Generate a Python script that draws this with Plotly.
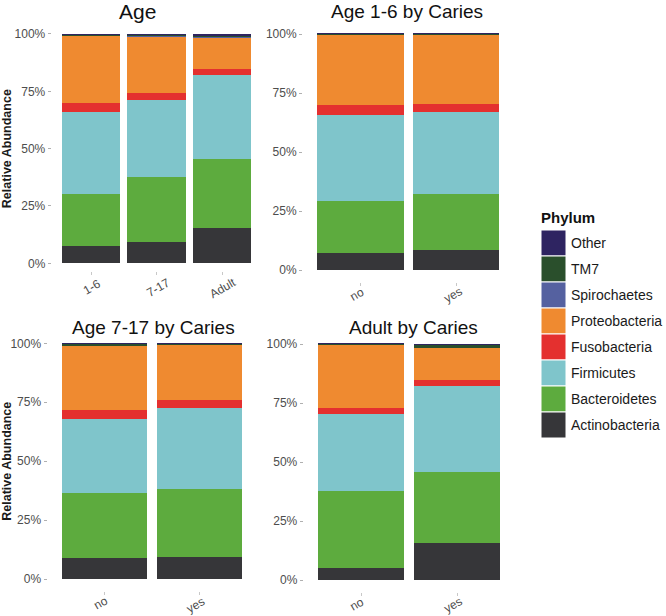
import plotly.graph_objects as go

W, H = 666, 616

phyla = ["Actinobacteria", "Bacteroidetes", "Firmicutes", "Fusobacteria",
         "Proteobacteria", "Spirochaetes", "TM7", "Other"]
colors = ["#363639", "#5dab3e", "#7fc5cb", "#e4302f",
          "#ef8a30", "#5561a0", "#2a4f2c", "#2e2461"]

titles = ["Age", "Age 1-6 by Caries", "Age 7-17 by Caries", "Adult by Caries"]
cats_age = ["1-6", "7-17", "Adult"]
cats_caries = ["no", "yes"]

# relative abundance (%) per phylum, one list per panel (order of categories)
age_vals = {
    "Actinobacteria": [7.6, 9.2, 15.4],
    "Bacteroidetes": [22.5, 28.6, 29.9],
    "Firmicutes": [35.9, 33.4, 36.7],
    "Fusobacteria": [3.8, 3.2, 2.6],
    "Proteobacteria": [29.9, 24.9, 13.9],
    "Spirochaetes": [0.02, 0.03, 0.05],
    "TM7": [0.25, 0.6, 1.2],
    "Other": [0.03, 0.03, 0.05],
}
age16_vals = {
    "Actinobacteria": [7.1, 8.5],
    "Bacteroidetes": [22.1, 23.6],
    "Firmicutes": [36.6, 35.0],
    "Fusobacteria": [4.0, 3.2],
    "Proteobacteria": [30.0, 29.5],
    "Spirochaetes": [0.02, 0.02],
    "TM7": [0.15, 0.15],
    "Other": [0.03, 0.03],
}
age717_vals = {
    "Actinobacteria": [8.8, 9.5],
    "Bacteroidetes": [27.9, 28.9],
    "Firmicutes": [31.2, 34.3],
    "Fusobacteria": [3.7, 3.3],
    "Proteobacteria": [27.8, 23.6],
    "Spirochaetes": [0.03, 0.03],
    "TM7": [0.5, 0.3],
    "Other": [0.03, 0.03],
}
adult_vals = {
    "Actinobacteria": [5.2, 15.5],
    "Bacteroidetes": [32.7, 30.1],
    "Firmicutes": [32.6, 36.6],
    "Fusobacteria": [2.5, 2.5],
    "Proteobacteria": [26.6, 13.7],
    "Spirochaetes": [0.03, 0.05],
    "TM7": [0.3, 1.4],
    "Other": [0.03, 0.05],
}

y_ticks = [0, 25, 50, 75, 100]
y_ticktext = ["0%", "25%", "50%", "75%", "100%"]

panels = [
    (cats_age, age_vals),
    (cats_caries, age16_vals),
    (cats_caries, age717_vals),
    (cats_caries, adult_vals),
]

# panel pixel boxes (left, right, top, bottom) -> domains
boxes = [
    (51.7, 261.3, 22.5, 274.8),
    (303.0, 513.6, 22.2, 281.8),
    (47.5, 256.5, 331.5, 591.0),
    (303.7, 514.5, 332.2, 591.8),
]
title_pos = [(137, 12, 21), (407, 12, 19), (153, 327, 19), (413, 327, 19)]
label_shift = [1, -3, -4, -4]
tick_dir = ["inside", "outside", "outside", "outside"]

fig = go.Figure()
FONT = "Liberation Sans, Arial, sans-serif"

for i, (cats, vals) in enumerate(panels):
    xa = "x" if i == 0 else f"x{i+1}"
    ya = "y" if i == 0 else f"y{i+1}"
    for p, c in zip(phyla, colors):
        fig.add_trace(go.Bar(
            x=cats, y=vals[p], name=p, marker=dict(color=c, line=dict(width=0)),
            width=0.9, xaxis=xa, yaxis=ya, showlegend=False,
        ))
    l, r, t, b = boxes[i]
    xkey = "xaxis" if i == 0 else f"xaxis{i+1}"
    ykey = "yaxis" if i == 0 else f"yaxis{i+1}"
    fig.layout[xkey] = dict(
        domain=[l / W, r / W], anchor=ya, type="category", automargin=False,
        range=[-0.6, len(cats) - 0.4], showgrid=False, zeroline=False,
        showline=False, ticks=tick_dir[i], ticklen=3, tickcolor="#c8c8c8",
        showticklabels=False,
    )
    yd = dict(
        domain=[1 - b / H, 1 - t / H], anchor=xa, range=[-5, 105], automargin=False,
        tickvals=y_ticks, ticktext=y_ticktext, showgrid=False, zeroline=False,
        showline=False, ticks="outside", ticklen=3, tickcolor="#b0b0b0",
        tickfont=dict(size=12, color="#4d4d4d", family=FONT),
    )
    if i in (0, 2):
        yd["title"] = dict(text="<b>Relative Abundance</b>", standoff=6,
                           font=dict(size=12.5, color="#1a1a1a", family=FONT))
    fig.layout[ykey] = yd
    # rotated category labels under each tick
    for k, cat in enumerate(cats):
        fig.add_annotation(x=cat, xref=xa, y=1 - (b + 12 + 1.5 * k / max(1, len(cats) - 1)) / H,
                           yref="paper", text=cat, showarrow=False, textangle=-30,
                           xanchor="center", yanchor="middle", xshift=label_shift[i],
                           font=dict(size=12, color="#4d4d4d", family=FONT))
    tx, ty, ts = title_pos[i]
    fig.add_annotation(x=tx / W, y=1 - ty / H, xref="paper", yref="paper",
                       text=titles[i], showarrow=False, xanchor="center",
                       yanchor="middle",
                       font=dict(size=ts, color="#111111", family=FONT))

fig.update_layout(barmode="stack")

# legend (ggplot-style keys)
fig.add_annotation(x=539 / W, y=1 - 217 / H, xref="paper", yref="paper",
                   text="<b>Phylum</b>", showarrow=False, xanchor="left",
                   yanchor="middle", font=dict(size=15, color="#111111", family=FONT))
key_top, key_h = 230, 26
for j, (p, c) in enumerate(zip(phyla[::-1], colors[::-1])):
    y0 = key_top + j * key_h
    fig.add_shape(type="rect", xref="paper", yref="paper",
                  x0=541 / W, x1=566 / W, y0=1 - (y0 + key_h) / H, y1=1 - y0 / H,
                  fillcolor=c, line=dict(color="white", width=1))
    fig.add_annotation(x=569 / W, y=1 - (y0 + key_h / 2) / H, xref="paper",
                       yref="paper", text=p, showarrow=False, xanchor="left",
                       yanchor="middle",
                       font=dict(size=14, color="#1a1a1a", family=FONT))

fig.update_layout(
    width=W, height=H, margin=dict(l=0, r=0, t=0, b=0, autoexpand=False),
    paper_bgcolor="white", plot_bgcolor="white",
    font=dict(family=FONT),
)

fig.write_html(
    "out.html",
    config={"displayModeBar": False},
    post_script="document.body.style.margin='0';document.body.style.overflow='hidden';",
)
